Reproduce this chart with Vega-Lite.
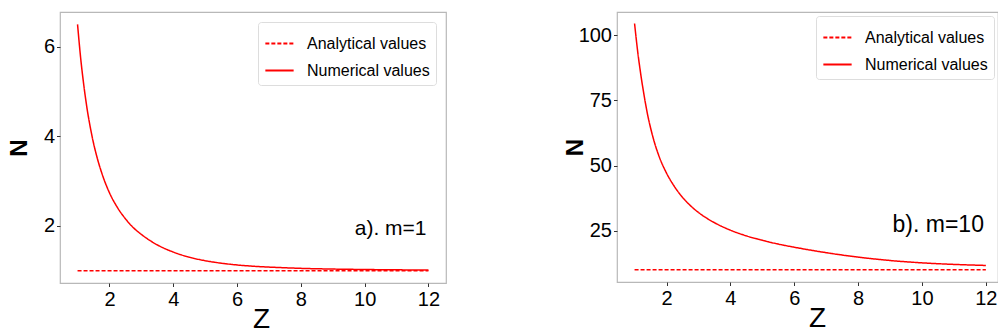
{
  "$schema": "https://vega.github.io/schema/vega-lite/v6.json",
  "background": "white",
  "padding": {"left": 6, "top": 11, "right": 0, "bottom": 0},
  "spacing": 116,
  "config": {
    "font": "Liberation Sans, Arial, sans-serif",
    "view": {"stroke": "#b8b8b8", "strokeWidth": 1.2},
    "axis": {"grid": false, "domain": false, "tickColor": "#333333", "tickSize": 3.5, "tickWidth": 1, "labelFontSize": 20, "labelColor": "#000000", "titleColor": "#000000", "labelFont": "Liberation Sans", "titleFont": "Liberation Sans"},
    "axisX": {"titleFontSize": 28, "titleFontWeight": "normal", "labelPadding": 3, "titlePadding": -4, "labelFlush": false},
    "axisY": {"titleFontSize": 24, "titleFontWeight": "bold", "titlePadding": 12, "labelPadding": 2},
    "text": {"font": "Liberation Sans"},
    "legend": {"title": null, "symbolType": "stroke", "symbolStrokeWidth": 1.8, "symbolSize": 800, "labelFontSize": 16, "labelFont": "Liberation Sans", "labelOffset": 12, "padding": 6, "rowPadding": 3, "fillColor": "white", "strokeColor": "#dddddd", "cornerRadius": 3, "labelColor": "#000000", "orient": "top-right"}
  },
  "resolve": {"scale": {"color": "independent", "strokeDash": "independent"}, "legend": {"color": "independent", "strokeDash": "independent"}},
  "hconcat": [
    {
      "width": 386,
      "height": 271,
      "data": {"values": [
        {"series": "Analytical values", "Z": 1, "N": 1},
        {"series": "Analytical values", "Z": 12, "N": 1},
        {"series": "Numerical values", "Z": 1.0, "N": 6.5},
        {"series": "Numerical values", "Z": 1.1, "N": 5.73},
        {"series": "Numerical values", "Z": 1.2, "N": 5.12},
        {"series": "Numerical values", "Z": 1.3, "N": 4.61},
        {"series": "Numerical values", "Z": 1.4, "N": 4.2},
        {"series": "Numerical values", "Z": 1.5, "N": 3.85},
        {"series": "Numerical values", "Z": 1.6, "N": 3.56},
        {"series": "Numerical values", "Z": 1.75, "N": 3.2},
        {"series": "Numerical values", "Z": 2.0, "N": 2.74},
        {"series": "Numerical values", "Z": 2.25, "N": 2.41},
        {"series": "Numerical values", "Z": 2.5, "N": 2.16},
        {"series": "Numerical values", "Z": 2.75, "N": 1.96},
        {"series": "Numerical values", "Z": 3.0, "N": 1.81},
        {"series": "Numerical values", "Z": 3.5, "N": 1.576},
        {"series": "Numerical values", "Z": 4.0, "N": 1.416},
        {"series": "Numerical values", "Z": 4.5, "N": 1.302},
        {"series": "Numerical values", "Z": 5.0, "N": 1.223},
        {"series": "Numerical values", "Z": 5.5, "N": 1.168},
        {"series": "Numerical values", "Z": 6.0, "N": 1.128},
        {"series": "Numerical values", "Z": 6.5, "N": 1.1},
        {"series": "Numerical values", "Z": 7.0, "N": 1.08},
        {"series": "Numerical values", "Z": 7.5, "N": 1.065},
        {"series": "Numerical values", "Z": 8.0, "N": 1.052},
        {"series": "Numerical values", "Z": 9.0, "N": 1.036},
        {"series": "Numerical values", "Z": 10.0, "N": 1.026},
        {"series": "Numerical values", "Z": 11.0, "N": 1.019},
        {"series": "Numerical values", "Z": 12.0, "N": 1.014}
      ]},
      "layer": [
        {
          "mark": {"type": "line", "strokeWidth": 1.5, "interpolate": "monotone", "clip": true},
          "encoding": {
            "x": {"field": "Z", "type": "quantitative", "scale": {"domain": [0.45, 12.55], "nice": false, "zero": false}, "axis": {"title": "Z", "values": [2, 4, 6, 8, 10, 12], "titleX": 201}},
            "y": {"field": "N", "type": "quantitative", "scale": {"domain": [0.725, 6.775], "nice": false, "zero": false}, "axis": {"title": "N", "values": [2, 4, 6], "titlePadding": 12}},
            "color": {"field": "series", "type": "nominal", "scale": {"domain": ["Analytical values", "Numerical values"], "range": ["#ff0000", "#ff0000"]}, "legend": {"offset": 10}},
            "strokeDash": {"field": "series", "type": "nominal", "scale": {"domain": ["Analytical values", "Numerical values"], "range": [[4, 2], [1, 0]]}, "legend": {"offset": 10}}
          }
        },
        {
          "data": {"values": [{"Z": 11.94, "N": 1.79, "label": "a). m=1"}]},
          "mark": {"type": "text", "align": "right", "baseline": "alphabetic", "fontSize": 21, "color": "#000000"},
          "encoding": {
            "x": {"field": "Z", "type": "quantitative", "scale": {"domain": [0.45, 12.55], "nice": false, "zero": false}},
            "y": {"field": "N", "type": "quantitative", "scale": {"domain": [0.725, 6.775], "nice": false, "zero": false}},
            "text": {"field": "label", "type": "nominal"}
          }
        }
      ]
    },
    {
      "width": 381,
      "height": 270,
      "data": {"values": [
        {"series": "Analytical values", "Z": 1, "N": 10},
        {"series": "Analytical values", "Z": 12, "N": 10},
        {"series": "Numerical values", "Z": 1.0, "N": 104.5},
        {"series": "Numerical values", "Z": 1.1, "N": 93.5},
        {"series": "Numerical values", "Z": 1.2, "N": 84.5},
        {"series": "Numerical values", "Z": 1.3, "N": 76.8},
        {"series": "Numerical values", "Z": 1.4, "N": 70.0},
        {"series": "Numerical values", "Z": 1.5, "N": 64.5},
        {"series": "Numerical values", "Z": 1.6, "N": 59.8},
        {"series": "Numerical values", "Z": 1.75, "N": 54.1},
        {"series": "Numerical values", "Z": 2.0, "N": 47.1},
        {"series": "Numerical values", "Z": 2.25, "N": 41.9},
        {"series": "Numerical values", "Z": 2.5, "N": 37.8},
        {"series": "Numerical values", "Z": 2.75, "N": 34.6},
        {"series": "Numerical values", "Z": 3.0, "N": 32.0},
        {"series": "Numerical values", "Z": 3.5, "N": 28.07},
        {"series": "Numerical values", "Z": 4.0, "N": 25.2},
        {"series": "Numerical values", "Z": 4.5, "N": 23.0},
        {"series": "Numerical values", "Z": 5.0, "N": 21.3},
        {"series": "Numerical values", "Z": 5.5, "N": 19.85},
        {"series": "Numerical values", "Z": 6.0, "N": 18.65},
        {"series": "Numerical values", "Z": 6.5, "N": 17.55},
        {"series": "Numerical values", "Z": 7.0, "N": 16.55},
        {"series": "Numerical values", "Z": 7.5, "N": 15.65},
        {"series": "Numerical values", "Z": 8.0, "N": 14.85},
        {"series": "Numerical values", "Z": 9.0, "N": 13.55},
        {"series": "Numerical values", "Z": 10.0, "N": 12.65},
        {"series": "Numerical values", "Z": 11.0, "N": 12.05},
        {"series": "Numerical values", "Z": 12.0, "N": 11.65}
      ]},
      "layer": [
        {
          "mark": {"type": "line", "strokeWidth": 1.5, "interpolate": "monotone", "clip": true},
          "encoding": {
            "x": {"field": "Z", "type": "quantitative", "scale": {"domain": [0.45, 12.38], "nice": false, "zero": false}, "axis": {"title": "Z", "values": [2, 4, 6, 8, 10, 12], "titleX": 200}},
            "y": {"field": "N", "type": "quantitative", "scale": {"domain": [5.3, 108.9], "nice": false, "zero": false}, "axis": {"title": "N", "values": [25, 50, 75, 100], "titlePadding": -9.5}},
            "color": {"field": "series", "type": "nominal", "scale": {"domain": ["Analytical values", "Numerical values"], "range": ["#ff0000", "#ff0000"]}, "legend": {"offset": 4}},
            "strokeDash": {"field": "series", "type": "nominal", "scale": {"domain": ["Analytical values", "Numerical values"], "range": [[4, 2], [1, 0]]}, "legend": {"offset": 4}}
          }
        },
        {
          "data": {"values": [{"Z": 11.94, "N": 24.6, "label": "b). m=10"}]},
          "mark": {"type": "text", "align": "right", "baseline": "alphabetic", "fontSize": 23, "color": "#000000"},
          "encoding": {
            "x": {"field": "Z", "type": "quantitative", "scale": {"domain": [0.45, 12.38], "nice": false, "zero": false}},
            "y": {"field": "N", "type": "quantitative", "scale": {"domain": [5.3, 108.9], "nice": false, "zero": false}},
            "text": {"field": "label", "type": "nominal"}
          }
        }
      ]
    }
  ]
}
